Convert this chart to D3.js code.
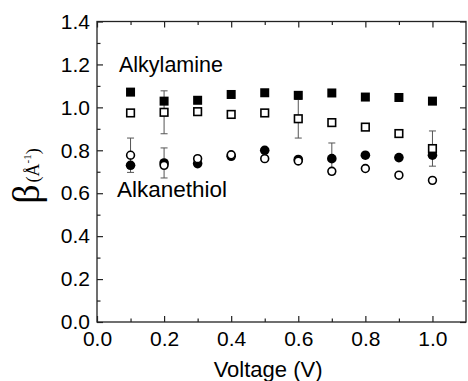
<!DOCTYPE html>
<html>
<head>
<meta charset="utf-8">
<script src="https://cdn.jsdelivr.net/npm/d3@7"></script>
<style>
  body { margin: 0; background: #fff; }
  svg { display: block; font-family: "Liberation Sans", Arial, sans-serif; }
  .tick text { font-size: 21px; fill: #000; }
  .tick line { stroke: #222; stroke-width: 1.2; }
</style>
</head>
<body>
<div class="chart"></div>
<script>
var voltage = [0.1, 0.2, 0.3, 0.4, 0.5, 0.6, 0.7, 0.8, 0.9, 1.0];

var amineFilled = [1.071, 1.029, 1.033, 1.060, 1.068, 1.056, 1.067, 1.048, 1.046, 1.029];
var amineOpen   = [0.974, 0.977, 0.980, 0.967, 0.974, 0.947, 0.929, 0.908, 0.878, 0.808];
var thiolFilled = [0.730, 0.741, 0.738, 0.772, 0.800, 0.757, 0.761, 0.777, 0.766, 0.777];
var thiolOpen   = [0.777, 0.730, 0.761, 0.779, 0.761, 0.750, 0.702, 0.715, 0.684, 0.660];

// error bars (half width), null = none drawn
var amineOpenErr   = [null, 0.10, null, null, null, 0.09, null, null, null, 0.082];
var thiolFilledErr = [null, 0.07, null, null, null, null, 0.073, null, null, null];
var thiolOpenErr   = [0.08, null, null, null, null, null, null, null, null, null];

var xTicks = [0, 0.2, 0.4, 0.6, 0.8, 1.0];
var xMinor = [0.1, 0.3, 0.5, 0.7, 0.9];
var yTicks = [0, 0.2, 0.4, 0.6, 0.8, 1.0, 1.2, 1.4];
var yMinor = [0.1, 0.3, 0.5, 0.7, 0.9, 1.1, 1.3];

var width = 468, height = 381;
var margin = {top: 21.5, right: 2, bottom: 59, left: 97};
var w = width - margin.left - margin.right,
    h = height - margin.top - margin.bottom;

var svg = d3.select('.chart').append('svg')
  .attr('width', width)
  .attr('height', height);

var g = svg.append('g')
  .attr('transform', `translate(${margin.left},${margin.top})`);

var x = d3.scaleLinear().domain([0, 1.1]).range([0, w]);
var y = d3.scaleLinear().domain([0, 1.4]).range([h, 0]);

var fmt = d3.format('.1f');

// ========= axes (ticks point inward on all four sides) ============
function addAxis(axis, tr) {
  var a = g.append('g').attr('transform', tr).call(axis);
  a.select('.domain').remove();
  return a;
}
addAxis(d3.axisBottom(x).tickValues(xTicks).tickFormat(fmt).tickSize(-6).tickPadding(9), `translate(0,${h})`);
addAxis(d3.axisBottom(x).tickValues(xMinor).tickFormat('').tickSize(-3.5), `translate(0,${h})`);
addAxis(d3.axisTop(x).tickValues(xTicks).tickFormat('').tickSize(-6), 'translate(0,0)');
addAxis(d3.axisTop(x).tickValues(xMinor).tickFormat('').tickSize(-3.5), 'translate(0,0)');
addAxis(d3.axisLeft(y).tickValues(yTicks).tickFormat(fmt).tickSize(-6).tickPadding(7), 'translate(0,0)');
addAxis(d3.axisLeft(y).tickValues(yMinor).tickFormat('').tickSize(-3.5), 'translate(0,0)');
addAxis(d3.axisRight(y).tickValues(yTicks).tickFormat('').tickSize(-6), `translate(${w},0)`);
addAxis(d3.axisRight(y).tickValues(yMinor).tickFormat('').tickSize(-3.5), `translate(${w},0)`);

g.append('rect')
  .attr('width', w).attr('height', h)
  .attr('fill', 'none').attr('stroke', '#222').attr('stroke-width', 1.3);

// ========= error bars ============
function errorBars(vals, errs) {
  var pts = voltage.map((v, i) => ({v: v, y: vals[i], e: errs[i]})).filter(d => d.e != null);
  var eg = g.append('g').attr('stroke', '#555').attr('stroke-width', 1);
  pts.forEach(d => {
    var cx = x(d.v);
    eg.append('line').attr('x1', cx).attr('x2', cx).attr('y1', y(d.y - d.e)).attr('y2', y(d.y + d.e));
    [d.y - d.e, d.y + d.e].forEach(v => {
      eg.append('line').attr('x1', cx - 3.5).attr('x2', cx + 3.5).attr('y1', y(v)).attr('y2', y(v));
    });
  });
}
errorBars(amineOpen, amineOpenErr);
errorBars(thiolFilled, thiolFilledErr);
errorBars(thiolOpen, thiolOpenErr);

// ========= markers ============
function circles(vals, filled) {
  g.append('g').selectAll('circle').data(vals).join('circle')
    .attr('cx', (d, i) => x(voltage[i]))
    .attr('cy', d => y(d))
    .attr('r', filled ? 4.8 : 3.9)
    .attr('fill', filled ? '#000' : '#fff')
    .attr('stroke', '#000')
    .attr('stroke-width', filled ? 0 : 1.6);
}
function squares(vals, filled) {
  var s = filled ? 9 : 7.6;
  g.append('g').selectAll('rect').data(vals).join('rect')
    .attr('x', (d, i) => x(voltage[i]) - s / 2)
    .attr('y', d => y(d) - s / 2)
    .attr('width', s).attr('height', s)
    .attr('fill', filled ? '#000' : '#fff')
    .attr('stroke', '#000')
    .attr('stroke-width', filled ? 0 : 1.6);
}
circles(thiolFilled, true);
circles(thiolOpen, false);
squares(amineFilled, true);
squares(amineOpen, false);

// ========= labels ============
g.append('text').attr('x', 22).attr('y', 72 - margin.top)
  .style('font-size', '21.5px').text('Alkylamine');
g.append('text').attr('x', 20).attr('y', 196.5 - margin.top)
  .style('font-size', '22.5px').text('Alkanethiol');

svg.append('text')
  .attr('x', margin.left + x(0.51)).attr('y', 377)
  .attr('text-anchor', 'middle')
  .style('font-size', '22px')
  .text('Voltage (V)');

var yt = svg.append('text')
  .attr('transform', 'translate(39,176) rotate(-90)')
  .attr('text-anchor', 'middle')
  .style('font-family', '"Liberation Serif", "Times New Roman", serif');
yt.append('tspan').style('font-size', '38px').text('β');
yt.append('tspan').style('font-size', '18px').attr('dx', 2).text('(Å');
yt.append('tspan').style('font-size', '11px').attr('dy', -8).text('-1');
yt.append('tspan').style('font-size', '18px').attr('dy', 8).text(')');
</script>
</body>
</html>
